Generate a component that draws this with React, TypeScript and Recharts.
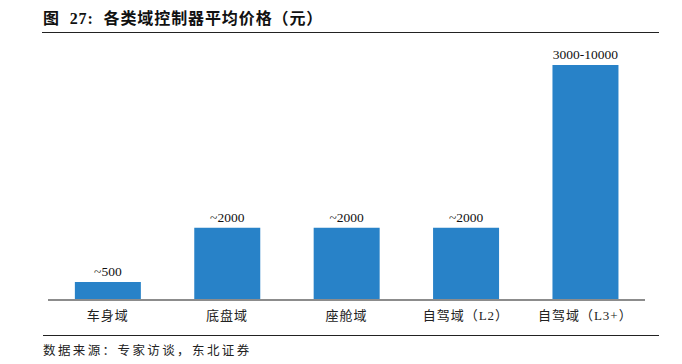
import React from 'react';
import { BarChart, Bar, XAxis, YAxis, LabelList } from 'recharts';

const categories = ['车身域', '底盘域', '座舱域', '自驾域（L2）', '自驾域（L3+）'];
const values = [500, 2000, 2000, 2000, 6500];
const valueLabels = ['~500', '~2000', '~2000', '~2000', '3000-10000'];

const data = categories.map((name, i) => ({ name, value: values[i], label: valueLabels[i] }));

const FONT = '"Liberation Serif", "Noto Sans CJK SC", serif';

export default function App() {
  return (
    <div style={{ position: 'absolute', left: 0, top: 0, width: 682, height: 364, background: '#fff' }}>
      <div
        style={{
          position: 'absolute',
          left: 43,
          top: 9,
          fontFamily: '"Liberation Serif", "Noto Sans CJK SC", serif',
          fontWeight: 'bold',
          fontSize: 16,
          lineHeight: '20px',
          letterSpacing: 0.9,
          color: '#111',
          whiteSpace: 'nowrap',
        }}
      >
        图&nbsp;&nbsp;27:&nbsp;&nbsp;各类域控制器平均价格（元）
      </div>
      <div style={{ position: 'absolute', left: 42, top: 32, width: 617, height: 0, borderTop: '1.5px solid #222' }} />
      <div style={{ position: 'absolute', left: 0, top: 0 }}>
        <BarChart width={682} height={364} data={data} margin={{ top: 47, right: 37, bottom: 34, left: 48 }} barCategoryGap="22.5%">
          <XAxis
            dataKey="name"
            interval={0}
            tickLine={false}
            height={30}
            tickMargin={5}
            axisLine={{ stroke: '#8c8c8c', strokeWidth: 2 }}
            tick={{ fill: '#222', fontSize: 13, fontFamily: FONT, letterSpacing: 1 }}
          />
          <YAxis hide domain={[0, 7000]} />
          <Bar dataKey="value" fill="#2882C8" isAnimationActive={false}>
            <LabelList dataKey="label" position="top" offset={6} fill="#111" fontSize={13.5} fontFamily={FONT} />
          </Bar>
        </BarChart>
      </div>
      <div style={{ position: 'absolute', left: 43, top: 335, width: 616, height: 0, borderTop: '1px solid #222' }} />
      <div
        style={{
          position: 'absolute',
          left: 43,
          top: 342,
          fontFamily: '"Noto Sans CJK SC", sans-serif',
          fontSize: 12.5,
          lineHeight: '16px',
          letterSpacing: 2.4,
          color: '#222',
          whiteSpace: 'nowrap',
        }}
      >
        数据来源：专家访谈，东北证券
      </div>
    </div>
  );
}
